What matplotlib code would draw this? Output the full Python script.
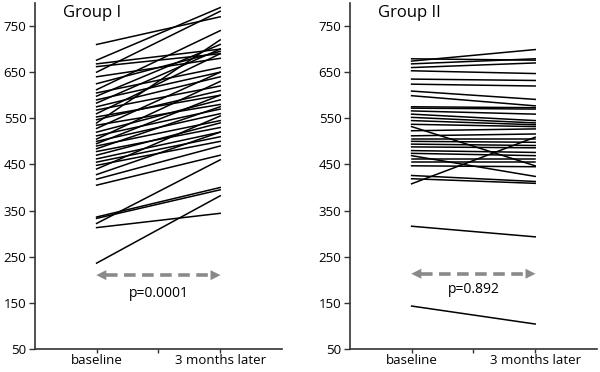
import matplotlib
matplotlib.use("Agg")
import matplotlib.pyplot as plt

plt.rcParams['font.family'] = ['Open Sans', 'DejaVu Sans']

# x categories (numeric positions on a 0..4 axis)
x_pos = [1, 3]
x_labels = ["baseline", "3 months later"]
y_ticks = [50, 150, 250, 350, 450, 550, 650, 750]

# Group I: baseline -> 3 months later
base1 = [710, 676, 668, 662, 650, 640, 625, 612, 605, 598, 590, 583, 575, 568,
         560, 553, 547, 540, 535, 528, 520, 512, 505, 500, 495, 490, 484, 478,
         470, 462, 455, 448, 440, 428, 418, 405, 336, 333, 322, 313, 236]
end1 = [770, 790, 700, 690, 782, 680, 695, 740, 660, 710, 650, 700, 640, 620,
        690, 600, 610, 720, 580, 650, 590, 570, 630, 560, 600, 545, 575, 530,
        540, 520, 510, 500, 555, 520, 490, 470, 400, 395, 460, 344, 382]

# Group II
base2 = [679, 674, 668, 660, 653, 635, 624, 609, 599, 575, 572, 566, 559, 552,
         545, 537, 532, 523, 512, 505, 500, 494, 488, 480, 474, 469, 462, 455,
         447, 426, 419, 408, 316, 143]
end2 = [676, 699, 679, 670, 647, 632, 620, 591, 577, 573, 570, 559, 545, 540,
        536, 532, 447, 527, 516, 505, 498, 491, 486, 476, 469, 424, 462, 455,
        445, 413, 409, 509, 293, 104]

groups = ["Group I", "Group II"]
pvals = ["p=0.0001", "p=0.892"]
arrow_y = [210, 213]
ptext_y = [170, 178]

fig = plt.figure(figsize=(6, 3.72), dpi=100)
axes = [fig.add_axes([0.058, 0.062, 0.412, 0.930]),
        fig.add_axes([0.583, 0.062, 0.412, 0.930])]

gray = '#8a8a8a'
for ax, b, e, g, p, ay, py in zip(axes, [base1, base2], [end1, end2], groups,
                                  pvals, arrow_y, ptext_y):
    for v0, v1 in zip(b, e):
        ax.plot(x_pos, [v0, v1], color='black', lw=1.1)
    ax.set_xlim(0, 4)
    ax.set_ylim(50, 800)
    ax.set_yticks(y_ticks)
    ax.set_xticks([1, 2, 3])
    ax.set_xticklabels([x_labels[0], "", x_labels[1]])
    for s in ['top', 'right']:
        ax.spines[s].set_visible(False)
    for s in ['left', 'bottom']:
        ax.spines[s].set_color('#333333')
        ax.spines[s].set_linewidth(1.2)
    ax.tick_params(axis='y', length=4, width=1, color='#333333', labelsize=9.5, pad=2)
    ax.tick_params(axis='x', length=3, width=1, color='#333333', labelsize=9.5, pad=1)

    # dashed double arrow
    ax.plot([1.15, 2.85], [ay, ay], color=gray, lw=2.6, dashes=(3.2, 1.8))
    ax.annotate('', xy=(0.95, ay), xytext=(1.25, ay),
                arrowprops=dict(arrowstyle='-|>', color=gray, lw=0,
                                mutation_scale=18))
    ax.annotate('', xy=(3.05, ay), xytext=(2.75, ay),
                arrowprops=dict(arrowstyle='-|>', color=gray, lw=0,
                                mutation_scale=18))
    ax.text(2, py, p, ha='center', va='center', fontsize=10)
    ax.text(0.45, 778, g, ha='left', va='center', fontsize=12)

fig.savefig("out.png", dpi=100)
